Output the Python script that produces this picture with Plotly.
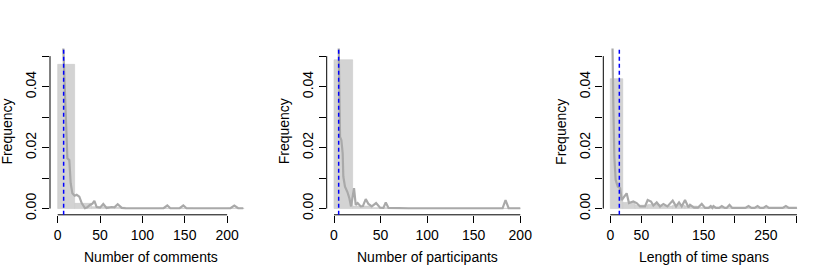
import plotly.graph_objects as go

# ---------------- data ----------------
bin_width = 20

hist1_edges = [0, 20, 40, 60, 80, 100, 120, 140, 160, 180, 200]
hist1_density = [0.0473, 0.0017, 0.0006, 0.0004, 0.0, 0.0, 0.0001, 0.0001, 0.0, 0.0, 0.0001]

hist2_edges = [0, 20, 40, 60, 80, 100, 120, 140, 160, 180]
hist2_density = [0.0488, 0.0008, 0.0003, 0.0, 0.0, 0.0, 0.0, 0.0, 0.0, 0.0001]

hist3_edges = [0, 20, 40, 60, 80, 100, 120, 140, 160, 180, 200, 220, 240, 260, 280]
hist3_density = [0.0426, 0.0020, 0.0011, 0.0013, 0.0008, 0.0011, 0.0008, 0.0004,
                 0.0004, 0.0003, 0.0001, 0.0003, 0.0002, 0.0001, 0.0002]

dens1_x = [1, 3, 5, 6.6, 8.6, 10.6, 11.4, 13.7, 15.3, 17.3, 20, 22.4, 25.5, 28.3,
           32.2, 35, 38, 41, 43.3, 46, 50, 53.8, 57.7, 63.6, 67, 70.8, 75.6, 80,
           100, 125, 129.4, 133, 144, 148.3, 152, 204, 208.5, 213, 219]
dens1_y = [0.085, 0.08, 0.065, 0.052, 0.0333, 0.0224, 0.0165, 0.0159, 0.0083, 0.005,
           0.0042, 0.0045, 0.0039, 0.0018, 0.0001, 0.0004, 0.0012, 0.0016, 0.0025,
           0.0005, 0.0003, 0.0015, 0.0002, 0.0005, 0.0004, 0.0014, 0.0002, 0.0001,
           0.0001, 0.0001, 0.0010, 0.0001, 0.0001, 0.0010, 0.0001, 0.0001, 0.0010,
           0.0001, 0.0001]

dens2_x = [1, 3, 4.7, 6.5, 7.9, 9.3, 10, 11.8, 14.3, 16.5, 18.3, 21.5, 23.3, 25.4,
           28.7, 31, 34.1, 37, 40.6, 45.2, 49.5, 53, 55.6, 58.5, 80, 120, 181,
           184.2, 187.5, 200]
dens2_y = [0.09, 0.08, 0.06, 0.0235, 0.0224, 0.0181, 0.0105, 0.0072, 0.0055, 0.0034,
           0.0007, 0.0067, 0.0012, 0.0018, 0.0007, 0.0008, 0.0031, 0.0015, 0.0007,
           0.0018, 0.0003, 0.0002, 0.0020, 0.0002, 0.0001, 0.0001, 0.0001, 0.0028,
           0.0001, 0.0001]

dens3_x = [1, 2.7, 4.9, 6.5, 8.6, 12, 15.8, 18.3, 22, 26.3, 30, 37, 42.4, 47.8,
           55.8, 60.1, 65.5, 69.2, 74.6, 80, 85.4, 91.8, 100.3, 105.7, 110.5, 114.8,
           120.1, 125.5, 128.2, 134.6, 141, 147, 152.4, 158, 161.5, 164, 165.8, 170,
           175, 179.2, 184, 187, 191.6, 196, 217, 222.2, 227, 232, 236.7, 241, 246,
           250.6, 255, 277, 282.2, 287, 300]
dens3_y = [0.09, 0.06, 0.0333, 0.017, 0.0094, 0.0072, 0.0067, 0.0028, 0.0039, 0.005,
           0.0018, 0.0023, 0.0018, 0.0007, 0.0007, 0.0028, 0.0023, 0.0010, 0.0020,
           0.0007, 0.0015, 0.0007, 0.0026, 0.0007, 0.0020, 0.0007, 0.0028, 0.0004,
           0.0012, 0.0003, 0.0003, 0.0015, 0.0002, 0.0002, 0.0008, 0.0002, 0.0008,
           0.0002, 0.0002, 0.0008, 0.0002, 0.0002, 0.0012, 0.0002, 0.0002, 0.0008,
           0.0002, 0.0002, 0.0008, 0.0002, 0.0002, 0.0008, 0.0002, 0.0002, 0.0008,
           0.0002, 0.0002]

center_lines = [7.0, 5.0, 14.5]   # dashed reference lines

x_titles = ["Number of comments", "Number of participants", "Length of time spans"]
y_title = "Frequency"

x_ticks = [[0, 50, 100, 150, 200],
           [0, 50, 100, 150, 200],
           [0, 50, 100, 150, 200, 250, 300]]
x_ticktext = [["0", "50", "100", "150", "200"],
              ["0", "50", "100", "150", "200"],
              ["0", "50", "", "150", "", "250", ""]]
y_ticks = [0.0, 0.01, 0.02, 0.03, 0.04, 0.05]
y_ticktext = ["0.00", "", "0.02", "", "0.04", ""]

# ---------------- layout geometry ----------------
W, H = 830, 277
x_ranges = [[-9.1, 228.2], [-7.85, 208], [-11.25, 312]]
y_range = [-0.00205, 0.0525]
x_domains_px = [(50, 251), (326.7, 527.7), (603.3, 804.4)]
panel_left_px = [0, 276.7, 553.3]
y_dom = [1 - 214.8 / H, 1 - 48.5 / H]

FONT = "Liberation Sans, Arial, Helvetica, sans-serif"

fig = go.Figure()
hists = [(hist1_edges, hist1_density), (hist2_edges, hist2_density), (hist3_edges, hist3_density)]
dens = [(dens1_x, dens1_y), (dens2_x, dens2_y), (dens3_x, dens3_y)]

layout = dict(
    width=W, height=H,
    margin=dict(l=0, r=0, t=0, b=0, autoexpand=False),
    paper_bgcolor="white", plot_bgcolor="white",
    showlegend=False,
    font=dict(family=FONT, size=14, color="black"),
    bargap=0,
)
shapes = []
annotations = []

for i in range(3):
    n = "" if i == 0 else str(i + 1)
    xa, ya = "x" + n, "y" + n
    edges, hd = hists[i]
    fig.add_trace(go.Bar(
        x=[e + bin_width / 2 for e in edges], y=hd, width=bin_width,
        marker=dict(color="#D3D3D3", line=dict(color="#C9C9C9", width=0.6)),
        xaxis=xa, yaxis=ya, hoverinfo="skip"))
    dx, dy = dens[i]
    fig.add_trace(go.Scatter(
        x=dx, y=dy, mode="lines",
        line=dict(color="#A9A9A9", width=2.2),
        xaxis=xa, yaxis=ya, hoverinfo="skip"))

    d0, d1 = x_domains_px[i]
    layout["xaxis" + n] = dict(
        domain=[d0 / W, d1 / W], anchor=ya, range=x_ranges[i], automargin=False,
        showgrid=False, zeroline=False, showline=False,
        ticks="outside", ticklen=7, tickwidth=1, tickcolor="black",
        tickvals=x_ticks[i], ticktext=x_ticktext[i],
        tickfont=dict(family=FONT, size=14, color="black"))
    layout["yaxis" + n] = dict(
        domain=y_dom, anchor=xa, range=y_range, automargin=False,
        showgrid=False, zeroline=False, showline=False,
        ticks="outside", ticklen=7, tickwidth=1, tickcolor="black",
        tickvals=y_ticks, ticktext=y_ticktext, tickangle=-90,
        tickfont=dict(family=FONT, size=14, color="black"))

    # R-style axis lines spanning first to last tick
    shapes.append(dict(type="line", xref=xa, yref=ya + " domain",
                       x0=x_ticks[i][0], x1=x_ticks[i][-1], y0=0, y1=0,
                       line=dict(color="black", width=1)))
    shapes.append(dict(type="line", xref=xa + " domain", yref=ya,
                       x0=0, x1=0, y0=y_ticks[0], y1=y_ticks[-1],
                       line=dict(color="black", width=1)))
    # dashed reference line
    shapes.append(dict(type="line", xref=xa, yref=ya + " domain",
                       x0=center_lines[i], x1=center_lines[i], y0=0, y1=1,
                       line=dict(color="blue", width=1.5, dash="4px,3px")))

    annotations.append(dict(text=x_titles[i], xref="paper", yref="paper",
                            x=(d0 + d1) / 2 / W, y=1 - 256.7 / H,
                            xanchor="center", yanchor="middle", showarrow=False,
                            font=dict(family=FONT, size=14, color="black")))
    annotations.append(dict(text=y_title, xref="paper", yref="paper",
                            x=(panel_left_px[i] + 7) / W, y=1 - 131.6 / H,
                            xanchor="center", yanchor="middle", showarrow=False,
                            textangle=-90,
                            font=dict(family=FONT, size=14, color="black")))

layout["shapes"] = shapes
layout["annotations"] = annotations
fig.update_layout(**layout)
fig.write_html("out.html",
               config={"displayModeBar": False, "staticPlot": True},
               post_script="document.body.style.margin='0px';document.body.style.padding='0px';")
